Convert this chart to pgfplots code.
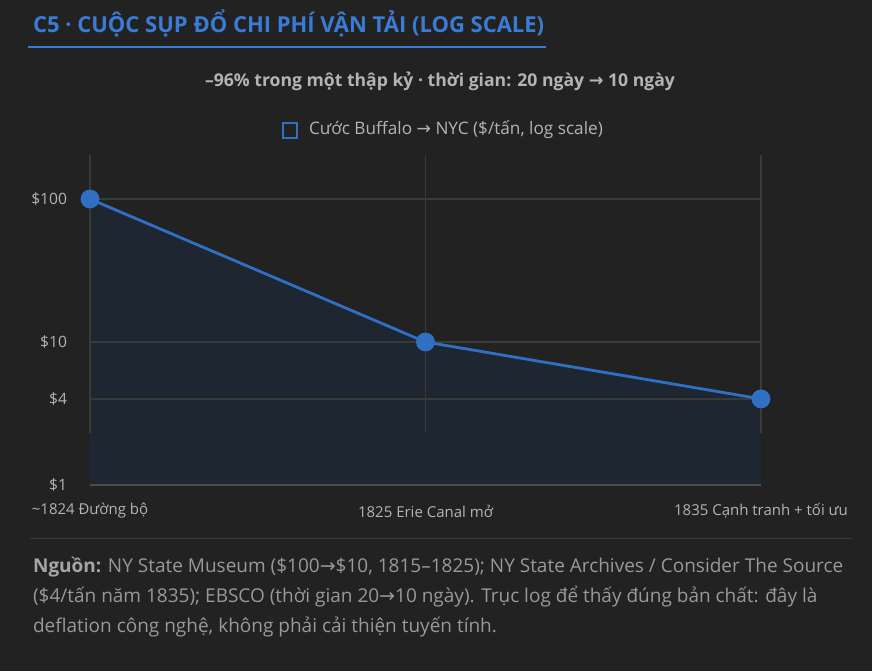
\documentclass[border=0pt]{standalone}
\usepackage{pgfplots}
\pgfplotsset{compat=1.18}
\usepackage{fontspec}
\setmainfont{Open Sans}
\newfontfamily\dv{DejaVu Sans}
\newcommand{\ar}{{\dv →}}
\definecolor{bg}{HTML}{222222}
\definecolor{ln}{HTML}{2F6FC4}
\definecolor{ttl}{HTML}{3A7BD5}
\definecolor{gr}{HTML}{3A3A3A}
\definecolor{tx}{HTML}{B4B4B4}
\definecolor{fl}{HTML}{1E2631}
\begin{document}
\begin{tikzpicture}[x=0.5pt,y=-0.5pt]
\fill[bg] (0,0) rectangle (872,671);
\node[anchor=west,text=ttl,font=\bfseries\fontsize{11}{13}\selectfont] at (26,23) {C5 · CUỘC SỤP ĐỔ CHI PHÍ VẬN TẢI (LOG SCALE)};
\draw[ttl,line width=1.2pt] (28,47) -- (546,47);
\node[text=tx,font=\bfseries\fontsize{8.8}{10}\selectfont] at (440,81) {–96\% trong một thập kỷ · thời gian: 20 ngày \ar{} 10 ngày};
\draw[ln,line width=1.2pt] (283,123) rectangle (297,138);
\node[anchor=west,text=tx,font=\fontsize{8.6}{10}\selectfont] at (302,130) {Cước Buffalo \ar{} NYC (\$/tấn, log scale)};
\draw[gr,line width=0.5pt] (30,538) -- (852,538);
\node[anchor=west,text=tx!85!black,font=\fontsize{9.5}{15}\selectfont,align=left] at (26,597) {\textbf{\color{tx!120!white}Nguồn:} NY State Museum (\$100\ar\$10, 1815–1825); NY State Archives / Consider The Source\\(\$4/tấn năm 1835); EBSCO (thời gian 20\ar10 ngày). Trục log để thấy đúng bản chất: đây là\\deflation công nghệ, không phải cải thiện tuyến tính.};
\begin{axis}[at={(45pt,-242.5pt)},anchor=south west,scale only axis,
 width=335.5pt,height=165pt,xmin=0,xmax=2,ymin=1,ymax=203,ymode=log,
 axis lines=none,clip=false,
 xtick=\empty,ytick=\empty]
\addplot[fill=fl,draw=none] coordinates {(0,1)(0,100)(1,10)(2,4)(2,1)} -- cycle;
\foreach \v in {4,10,100} {\edef\tmp{\noexpand\draw[gr,line width=0.6pt] (axis cs:0,\v) -- (axis cs:2,\v);}\tmp}
\draw[gr,line width=0.6pt] (rel axis cs:0,0) ++(0,-5pt) -- (rel axis cs:0,1);
\draw[gr,line width=0.6pt] (rel axis cs:0.5,0) ++(0,-5pt) -- (rel axis cs:0.5,1);
\draw[gr,line width=0.6pt] (rel axis cs:1,0) ++(0,-5pt) -- (rel axis cs:1,1);
\draw[gray!60!black,line width=0.6pt] (rel axis cs:0,0) -- (rel axis cs:1,0);
\addplot[ln,line width=1.4pt,mark=*,mark size=4pt,mark options={fill=ln,draw=ln}] coordinates {(0,100)(1,10)(2,4)};
\foreach \v/\l in {1/\$1,4/\$4,10/\$10,100/\$100} {\edef\tmp{\noexpand\node[anchor=east,text=tx,font=\noexpand\fontsize{7.8}{9}\noexpand\selectfont] at (axis cs:0,\v) [xshift=-8pt] {\l};}\tmp}
\node[text=tx,font=\fontsize{7.5}{9}\selectfont] at (rel axis cs:0,0) [yshift=-13pt] {\textasciitilde1824 Đường bộ};
\node[text=tx,font=\fontsize{7.5}{9}\selectfont] at (rel axis cs:0.5,0) [yshift=-13pt] {1825 Erie Canal mở};
\node[text=tx,font=\fontsize{7.5}{9}\selectfont] at (rel axis cs:1,0) [yshift=-13pt] {1835 Cạnh tranh + tối ưu};
\end{axis}
\end{tikzpicture}
\end{document}
